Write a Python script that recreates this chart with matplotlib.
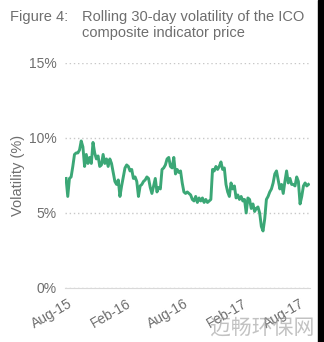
import matplotlib.pyplot as plt
import matplotlib.dates as mdates
import matplotlib.ticker as mticker
import pandas as pd

# rolling 30-day volatility (%)
vol = [7.3, 6.1, 7.3, 7.4, 8.1, 8.9, 9.0, 9.0, 9.2, 9.8, 9.4, 8.1, 8.9, 8.3,
       8.7, 8.3, 9.7, 9.0, 8.6, 8.8, 8.1, 8.2, 8.9, 8.3, 8.6, 8.1, 8.6, 8.3,
       7.7, 7.1, 6.9, 7.2, 6.1, 6.8, 7.4, 8.0, 8.2, 8.1, 7.8, 7.9, 7.3, 7.4,
       7.1, 6.1, 6.8, 6.9, 7.1, 7.2, 7.4, 7.3, 6.7, 6.3, 6.8, 7.3, 6.4, 6.7,
       6.6, 7.9, 8.0, 8.2, 8.6, 8.7, 8.1, 8.0, 8.7, 7.6, 7.9, 7.7, 7.8, 7.0,
       6.4, 6.3, 6.4, 6.3, 6.2, 5.9, 5.8, 6.1, 5.7, 6.0, 5.8, 6.0, 5.7, 5.9,
       5.7, 5.8, 5.9, 7.9, 7.8, 8.1, 7.9, 8.1, 8.4, 7.9, 8.0, 6.9, 6.4, 6.1,
       7.0, 6.6, 6.8, 6.0, 6.2, 5.9, 6.1, 5.8, 5.9, 5.0, 6.0, 5.9, 5.3, 5.6,
       5.1, 5.3, 5.4, 5.0, 4.1, 3.8, 4.6, 5.9, 6.1, 6.4, 6.6, 7.0, 7.6, 7.8,
       7.2, 6.6, 6.9, 6.3, 7.1, 7.8, 7.0, 7.3, 6.9, 6.9, 6.8, 7.4, 7.1, 5.6,
       6.1, 6.8, 7.0, 6.8, 6.9]
start, end = "2015-07-26", "2017-08-28"
xticks = ["2015-08-01", "2016-02-01", "2016-08-01", "2017-02-01", "2017-08-01"]
yticks = [0, 5, 10, 15]

dates = pd.date_range(start, end, periods=len(vol))
grey = "#6e6e6e"

plt.rcParams['font.family'] = ['Liberation Sans', 'DejaVu Sans']

fig = plt.figure(figsize=(3.24, 3.42), dpi=100)
ax = fig.add_axes([0.2, 0.158, 0.757, 0.658])

ax.plot(dates, vol, color="#3BA776", lw=2.1, solid_joinstyle="round")

ax.set_ylim(0, 15)
ax.set_yticks(yticks)
ax.yaxis.set_major_formatter(mticker.FuncFormatter(lambda v, p: f"{v:.0f}%"))
ax.set_xlim(pd.Timestamp("2015-07-22"), pd.Timestamp("2017-09-02"))
ax.set_xticks(pd.to_datetime(xticks))
ax.xaxis.set_major_formatter(mdates.DateFormatter("%b-%y"))
plt.setp(ax.get_xticklabels(), rotation=30, ha="right", rotation_mode="anchor")

ax.grid(axis="y", color="#c8c8c8", ls=(0, (1, 2)), lw=1)
ax.tick_params(length=0, colors=grey, labelsize=10, pad=6)
for s in ["top", "right", "left"]:
    ax.spines[s].set_visible(False)
ax.spines["bottom"].set_color("#d9d9d9")
ax.spines["bottom"].set_zorder(0)

ax.set_ylabel("Volatility (%)", color=grey, fontsize=10.5, labelpad=3)

fig.text(10 / 324, 1 - 10 / 342, "Figure 4:", color=grey, fontsize=10.5, va="top")
fig.text(82 / 324, 1 - 10 / 342, "Rolling 30-day volatility of the ICO\ncomposite indicator price",
         color=grey, fontsize=10.5, va="top", linespacing=1.15)

# watermark
fig.text(0.97, 0.01, "迈畅环保网", color="#9a9a9a", alpha=0.6, fontsize=15,
         ha="right", va="bottom", family=["Noto Sans CJK SC", "DejaVu Sans"])

fig.patches.append(plt.Rectangle((1 - 6 / 324, 0), 6 / 324, 1, color="black",
                                 transform=fig.transFigure, figure=fig))

plt.savefig("out.png", dpi=100)
